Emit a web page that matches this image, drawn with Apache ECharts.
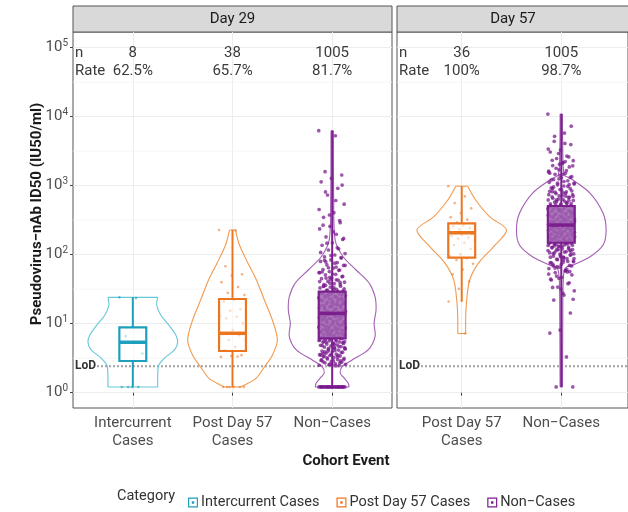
<!DOCTYPE html>
<html><head><meta charset="utf-8">
<script src="https://cdn.jsdelivr.net/npm/echarts@6/dist/echarts.min.js"></script>
<style>html,body{margin:0;padding:0;background:#fff}#c{width:628px;height:512px}</style>
</head><body><div id="c"></div><script>
const FONT = 'Roboto, "Liberation Sans", sans-serif';
// ---------------- data ----------------
const categories = ['Intercurrent Cases', 'Post Day 57 Cases', 'Non-Cases'];
const tickLabels = ['Intercurrent\nCases', 'Post Day 57\nCases', 'Non\u2212Cases'];
const panelTitles = ['Day 29', 'Day 57'];
const day29Cats = [0, 1, 2];
const day57Cats = [1, 2];
const day29N = ['8', '38', '1005'];
const day29Rate = ['62.5%', '65.7%', '81.7%'];
const day57N = ['36', '1005'];
const day57Rate = ['100%', '98.7%'];
const lodValue = 2.42;
const yTickExponents = [0, 1, 2, 3, 4, 5];
const yMinorExponents = [0.5, 1.5, 2.5, 3.5, 4.5];

// box statistics [min, Q1, median, Q3, max] (IU50/ml)
const boxD29Inter = [1.21, 2.88, 5.38, 8.87, 24.1];
const boxD29Post  = [1.21, 4.02, 7.26, 22.8, 228];
const boxD29Non   = [1.21, 6.14, 14.1, 29.1, 6270];
const boxD57Post  = [20.8, 90.5, 208, 285, 985];
const boxD57Non   = [1.21, 149, 269, 508, 10940];

// violin outlines: [titer, half-width]
const violinD29Inter = [[24.1,0.25],[18.6,0.24],[13.4,0.28],[9.6,0.36],[6.9,0.43],[5.4,0.45],[4.2,0.42],[3.2,0.32],[2.5,0.26],[1.8,0.25],[1.21,0.25]];
const violinD29Post = [[228,0.03],[138,0.07],[78,0.15],[43,0.24],[22,0.32],[11.3,0.40],[5.8,0.45],[3.5,0.40],[2.36,0.32],[1.63,0.24],[1.38,0.16],[1.21,0.08]];
const violinD29Non = [[6270,0.012],[621,0.015],[163,0.03],[93.5,0.11],[60,0.24],[38.9,0.37],[24.6,0.43],[15.8,0.44],[10.2,0.42],[6.5,0.43],[4.16,0.36],[2.98,0.20],[2.38,0.10],[1.93,0.08],[1.69,0.11],[1.38,0.16],[1.21,0.17]];
const violinD57Post = [[985,0.06],[621,0.14],[356,0.28],[228,0.45],[131,0.32],[76,0.17],[43,0.08],[22,0.05],[12.6,0.04],[7.2,0.04]];
const violinD57Non = [[10940,0.012],[3290,0.015],[1430,0.03],[1280,0.09],[776,0.29],[398,0.42],[228,0.45],[138,0.42],[93.5,0.29],[71,0.12],[64,0.04],[43,0.02],[11.3,0.015],[1.21,0.012]];

// individual titers
const ptsD29Inter = [24.1, 23.5, 6.6, 3.7, 1.21, 1.21, 1.21, 1.21];
const ptsD29Post = [228, 225, 68, 52, 50, 40, 34, 28, 26, 22, 21, 16.2, 15.4, 12.9, 12.6, 12.0, 10.1, 8.1, 7.3, 6.8, 5.8, 5.9, 4.6, 4.1, 3.5, 3.4, 3.3, 3.35, 1.21, 1.21, 1.21, 1.21, 1.21, 1.21];
const ptsD29Non = [6270, 5300, 1600, 1430, 1280, 1140, 916, 733, 540, 406, 348, 291, 258, 236, 198, 181, 166, 149, 137, 122, 117, 104, 99, 93, 91, 84, 80, 77, 71, 70, 64, 61, 60, 57, 55, 52, 51, 48, 46, 45, 43, 41, 40, 38, 37, 35, 34, 33, 31.5, 30.4, 29.9, 28.6, 27.7, 27.1, 26.2, 25.4, 24.9, 24.0, 23.1, 22.8, 21.7, 21.0, 20.6, 19.7, 19.3, 18.4, 18.1, 17.5, 16.8, 16.4, 15.7, 15.3, 14.9, 14.5, 14.0, 13.6, 13.4, 12.8, 12.5, 12.1, 11.8, 11.2, 11.0, 10.6, 10.3, 10.0, 9.7, 9.5, 9.1, 8.9, 8.6, 8.3, 8.1, 7.8, 7.6, 7.3, 7.1, 6.9, 6.6, 6.4, 6.2, 6.0, 5.8, 5.6, 5.4, 5.3, 5.0, 4.8, 4.7, 4.4, 4.3, 4.1, 3.9, 3.8, 3.6, 3.5, 3.3, 3.2, 3.0, 2.9, 2.8, 2.7, 2.6, 2.5, 2.45, 36, 22.4, 17.9, 13.1, 9.9, 8.0, 5.5, 4.5, 3.4, 2.9, 44, 27.3, 19.0, 11.5, 7.0, 5.1, 3.7,
  2.47, 2.52, 2.58, 2.63, 2.71, 2.76, 2.84, 2.93, 3.02, 3.08, 3.15, 3.24, 3.31, 3.39, 3.46, 3.55, 3.63, 3.72, 3.86, 3.94, 4.02, 4.15, 4.22, 4.36, 4.41, 4.58, 4.66, 4.75, 4.87, 4.95, 5.06, 5.18, 5.24, 5.37, 5.45, 5.62, 5.71, 5.84, 5.96, 6.08, 6.17, 6.33, 6.45, 6.58, 6.72, 6.84, 6.97, 7.15, 7.28, 7.45, 7.52, 7.71, 7.88, 8.04, 8.17, 8.39, 8.52, 8.77, 8.94, 9.22, 9.38, 9.61, 9.83, 10.1, 10.4, 10.7, 10.9, 11.3, 11.6, 11.9, 12.3, 12.6, 12.9, 13.3, 13.8, 14.2, 14.6, 15.1, 15.5, 16.0, 16.6, 17.2, 17.7, 18.3, 18.9, 19.6, 20.2, 20.9, 21.5, 22.2, 23.0, 23.7, 24.5, 25.3, 26.1, 27.0, 28.1, 29.3, 30.6, 32.0, 33.4, 35.1, 36.9, 38.7, 40.8, 43.2, 45.9, 48.6, 52.3, 56.1, 59.4, 64.7, 69.8, 75.3, 82.9, 89.6, 97.2, 108, 126, 147, 172, 214, 268, 312, 376, 452, 610, 812, 1020,
  2.55, 2.98, 3.48, 3.97, 4.49, 5.02, 5.58, 6.24, 6.91, 7.62, 8.33, 9.05, 9.92, 10.8, 11.7, 12.7, 13.9, 15.0, 16.2, 17.4, 18.7, 20.1, 21.9, 23.4, 25.6, 28.4, 31.2, 34.6, 39.9, 47.1, 54.8, 66.2, 78.5,
  1.21, 1.21, 1.21, 1.21, 1.21, 1.21, 1.21, 1.21, 1.21, 1.21, 1.21, 1.21, 1.21, 1.21, 1.21, 1.21, 1.21, 1.21, 1.21, 1.21, 1.21, 1.21, 1.21, 1.21, 1.21, 1.21];
const ptsD57Post = [985, 700, 560, 470, 400, 350, 322, 292, 281, 268, 259, 243, 231, 217, 211, 204, 199, 193, 187, 178, 171, 158, 149, 138, 121, 101, 95, 89, 84, 74, 61, 52, 41, 32, 21, 7.2];
const ptsD57Non = [10940, 5800, 4400, 3950, 3300, 3080, 2690, 2480, 2310, 2170, 1960, 1870, 1700, 1630, 1510, 1460, 1350, 1300, 1210, 1180, 1090, 1060, 990, 960, 905, 880, 830, 815, 770, 745, 720, 690, 671, 640, 622, 595, 580, 552, 541, 515, 503, 490, 481, 458, 451, 430, 425, 407, 398, 388, 371, 366, 352, 346, 331, 328, 314, 306, 297, 290, 281, 276, 268, 262, 253, 249, 240, 236, 226, 221, 213, 208, 203, 197, 190, 185, 179, 174, 166, 162, 156, 151, 146, 141, 137, 132, 128, 123, 118, 115, 109, 106, 100, 97, 92, 88, 86, 81, 78, 73, 70, 66, 63, 58, 55, 51, 47, 43, 38, 34, 30, 26, 22, 14.3, 8.1, 7.3, 3.3, 1.21, 1.21, 1460, 820, 610, 455, 372, 318, 259, 231, 193, 171, 144, 121, 103, 84, 69, 57, 2050, 1120, 705, 533, 417, 342, 284, 244, 209, 182, 159, 134, 112, 94, 76, 61, 49,
  22.6, 27.8, 33.5, 39.2, 45.6, 52.4, 58.9, 64.1, 68.7, 72.5, 76.9, 80.3, 84.8, 88.1, 91.7, 95.4, 98.9, 102, 107, 111, 114, 119, 122, 126, 129, 133, 136, 139, 143, 147, 150, 153, 157, 160, 163, 167, 170, 173, 177, 181, 184, 188, 191, 195, 199, 202, 206, 211, 215, 219, 224, 228, 233, 238, 243, 247, 252, 257, 263, 268, 273, 279, 286, 292, 299, 305, 312, 320, 327, 335, 343, 351, 360, 369, 378, 388, 399, 411, 423, 436, 449, 463, 478, 494, 511, 529, 548, 567, 588, 611, 634, 658, 684, 712, 741, 772, 806, 843, 884, 929, 977, 1030, 1090, 1150, 1230, 1320, 1410, 1520, 1650, 1790, 1940, 2120, 2340, 2610, 2930, 3400, 4100, 5200, 7300,
  31.8, 44.2, 56.3, 67.5, 79.1, 91.2, 104, 117, 131, 145, 158, 176, 194, 213, 234, 256, 277, 301, 333, 365, 402, 446, 497, 556, 623, 702, 798, 912, 1040, 1260, 1580, 2240];

// ---------------- styling ----------------
const colors = {
  box: ['#1E9FBD', '#EC7620', '#7B1F8E'],
  violin: ['#66C7D8', '#F39A4E', '#A35FB4'],
  point: ['rgba(30,159,189,0.75)', 'rgba(236,118,32,0.7)', 'rgba(118,22,138,0.9)'],
  boxFill: ['rgba(255,255,255,0.55)', 'rgba(255,255,255,0.55)', 'rgba(160,98,176,0.85)']
};
const lg = Math.log10;

function violinSeries(gi, xc, profile, ci) {
  return {
    type: 'custom', name: categories[ci], xAxisIndex: gi, yAxisIndex: gi, z: 2, silent: true,
    data: [[xc, 0]],
    renderItem(params, api) {
      const L = profile.map(([v, w]) => api.coord([xc - w, lg(v)]));
      const R = profile.map(([v, w]) => api.coord([xc + w, lg(v)]));
      const st = { fill: 'none', stroke: colors.violin[ci], lineWidth: 1.1 };
      return { type: 'group', children: [
        { type: 'polyline', shape: { points: L, smooth: 0.3 }, style: st },
        { type: 'polyline', shape: { points: R, smooth: 0.3 }, style: st },
        { type: 'line', shape: { x1: L[0][0], y1: L[0][1], x2: R[0][0], y2: R[0][1] }, style: st },
        { type: 'line', shape: { x1: L[L.length-1][0], y1: L[L.length-1][1], x2: R[R.length-1][0], y2: R[R.length-1][1] }, style: st }
      ]};
    }
  };
}
function pointSeries(gi, xc, vals, ci) {
  const jw = 0.135;
  return {
    type: 'scatter', name: categories[ci], xAxisIndex: gi, yAxisIndex: gi, z: 3, silent: true,
    symbolSize: ci === 2 ? 3.7 : 2.6, large: false,
    itemStyle: { color: colors.point[ci] },
    data: vals.map((v, i) => [xc + (((i * 0.6180339887) % 1) - 0.5) * 2 * jw, lg(v)])
  };
}
function boxSeries(gi, xc, stats, ci) {
  const s = stats.map(lg);
  return {
    type: 'custom', name: categories[ci], xAxisIndex: gi, yAxisIndex: gi, z: 4, silent: true,
    data: [[xc].concat(s)],
    renderItem(params, api) {
      const hw = 0.135, c = colors.box[ci];
      const p = s.map(v => api.coord([xc, v]));
      const l = api.coord([xc - hw, s[2]])[0], r = api.coord([xc + hw, s[2]])[0];
      return { type: 'group', children: [
        { type: 'line', shape: { x1: p[0][0], y1: p[0][1], x2: p[1][0], y2: p[1][1] }, style: { stroke: c, lineWidth: 2 } },
        { type: 'line', shape: { x1: p[3][0], y1: p[3][1], x2: p[4][0], y2: p[4][1] }, style: { stroke: c, lineWidth: 2 } },
        { type: 'rect', shape: { x: l, y: p[3][1], width: r - l, height: p[1][1] - p[3][1] }, style: { fill: colors.boxFill[ci], stroke: c, lineWidth: 2.2 } },
        { type: 'line', shape: { x1: l, y1: p[2][1], x2: r, y2: p[2][1] }, style: { stroke: c, lineWidth: 3.5 } }
      ]};
    }
  };
}
function headerSeries(gi, cats, nArr, rateArr) {
  return {
    type: 'custom', xAxisIndex: gi, yAxisIndex: gi, z: 5, silent: true,
    data: cats.map((c, i) => [i + 1]),
    renderItem(params, api) {
      const i = params.dataIndex, cs = params.coordSys;
      const x = api.coord([i + 1, 0])[0];
      const st = { fontFamily: FONT, fontSize: 15, fill: '#3a3a3a', align: 'center', verticalAlign: 'middle' };
      const ch = [
        { type: 'text', x: x, y: cs.y + 21, style: Object.assign({}, st, { text: nArr[i] }) },
        { type: 'text', x: x, y: cs.y + 39.5, style: Object.assign({}, st, { text: rateArr[i] }) }
      ];
      if (i === 0) {
        ch.push({ type: 'text', x: cs.x + 2, y: cs.y + 21, style: Object.assign({}, st, { text: 'n', align: 'left' }) });
        ch.push({ type: 'text', x: cs.x + 2, y: cs.y + 39.5, style: Object.assign({}, st, { text: 'Rate', align: 'left' }) });
      }
      return { type: 'group', children: ch };
    }
  };
}
function lodSeries(gi) {
  return {
    type: 'custom', xAxisIndex: gi, yAxisIndex: gi, z: 1, silent: true,
    data: [[0, lg(lodValue)]],
    renderItem(params, api) {
      const cs = params.coordSys;
      const y = api.coord([0, lg(lodValue)])[1];
      return { type: 'group', children: [
        { type: 'line', shape: { x1: cs.x, y1: y, x2: cs.x + cs.width, y2: y }, style: { stroke: '#A9A9A9', lineWidth: 2.2, lineDash: [2, 2] } },
        { type: 'text', x: cs.x + 1, y: y, z2: 10, style: { text: 'LoD', fontFamily: FONT, fontWeight: 'bold', fontSize: 12, fill: '#333', verticalAlign: 'middle', backgroundColor: '#fff', padding: [1, 1] } }
      ]};
    }
  };
}
function minorGridSeries(gi) {
  return {
    type: 'custom', xAxisIndex: gi, yAxisIndex: gi, z: 0, silent: true,
    data: yMinorExponents.map(e => [0, e]),
    renderItem(params, api) {
      const cs = params.coordSys;
      const y = api.coord([0, yMinorExponents[params.dataIndex]])[1];
      return { type: 'line', shape: { x1: cs.x, y1: y, x2: cs.x + cs.width, y2: y }, style: { stroke: '#F3F3F3', lineWidth: 0.8 } };
    }
  };
}

const yMin = -0.222, yMax = 5.228;
const gridStyle = { show: true, borderColor: '#555', borderWidth: 1, backgroundColor: '#fff', containLabel: false };
function yAxis(gi, labels) {
  return {
    type: 'value', gridIndex: gi, min: yMin, max: yMax,
    axisLine: { show: false },
    axisTick: { show: labels, length: 3, lineStyle: { color: '#444' }, customValues: yTickExponents },
    axisLabel: labels ? {
      show: true, customValues: yTickExponents, margin: 5, color: '#4D4D4D',
      formatter: v => '{b|10}{s|' + v + '}',
      rich: { b: { fontFamily: FONT, fontSize: 15, color: '#4D4D4D', lineHeight: 18 },
              s: { fontFamily: FONT, fontSize: 10, color: '#4D4D4D', lineHeight: 10, verticalAlign: 'top' } }
    } : { show: false, customValues: yTickExponents },
    splitLine: { show: true, lineStyle: { color: '#EBEBEB', width: 0.9 } }
  };
}
function xAxis(gi, min, max, cats) {
  const vals = cats.map((c, i) => i + 1);
  return {
    type: 'value', gridIndex: gi, min: min, max: max,
    axisLine: { show: false },
    axisTick: { show: true, length: 3, lineStyle: { color: '#444' }, customValues: vals },
    axisLabel: { show: true, customValues: vals, margin: 6, color: '#4D4D4D', fontFamily: FONT, fontSize: 15, lineHeight: 18,
      formatter: v => tickLabels[cats[Math.round(v) - 1]] },
    splitLine: { show: true, lineStyle: { color: '#EBEBEB', width: 0.9 } }
  };
}

const legendIcon = 'path://M0,0H10V10H0Z M1.2,1.2V8.8H8.8V1.2Z M3.8,3.8H6.2V6.2H3.8Z';
const option = {
  animation: false,
  backgroundColor: '#fff',
  grid: [
    Object.assign({ left: 73, top: 32, width: 319, height: 376 }, gridStyle),
    Object.assign({ left: 397, top: 32, width: 232, height: 376 }, gridStyle)
  ],
  xAxis: [xAxis(0, 0.4, 3.6, day29Cats), xAxis(1, 0.35, 2.67, day57Cats)],
  yAxis: [yAxis(0, true), yAxis(1, false)],
  legend: {
    left: 183, top: 490, itemWidth: 10, itemHeight: 10, itemGap: 17,
    formatter: name => name.replace('-', '\u2212'),
    textStyle: { fontFamily: FONT, fontSize: 14.5, color: '#333', padding: [0, 0, 0, -2] },
    data: categories.map((c, i) => ({ name: c, icon: legendIcon, itemStyle: { color: colors.box[i] } }))
  },
  graphic: [
    { type: 'rect', shape: { x: 73, y: 6, width: 319, height: 26 }, style: { fill: '#D9D9D9', stroke: '#555', lineWidth: 1 } },
    { type: 'rect', shape: { x: 397, y: 6, width: 232, height: 26 }, style: { fill: '#D9D9D9', stroke: '#555', lineWidth: 1 } },
    { type: 'text', x: 232.5, y: 19, style: { text: panelTitles[0], fontFamily: FONT, fontSize: 15, fill: '#1a1a1a', align: 'center', verticalAlign: 'middle' } },
    { type: 'text', x: 513, y: 19, style: { text: panelTitles[1], fontFamily: FONT, fontSize: 15, fill: '#1a1a1a', align: 'center', verticalAlign: 'middle' } },
    { type: 'text', x: 37, y: 214, rotation: Math.PI / 2, style: { text: 'Pseudovirus\u2212nAb ID50 (IU50/ml)', fontFamily: FONT, fontWeight: 'bold', fontSize: 15, fill: '#1a1a1a', align: 'center', verticalAlign: 'middle' } },
    { type: 'text', x: 346, y: 461, style: { text: 'Cohort Event', fontFamily: FONT, fontWeight: 'bold', fontSize: 15, fill: '#1a1a1a', align: 'center', verticalAlign: 'middle' } },
    { type: 'text', x: 117, y: 496, style: { text: 'Category', fontFamily: FONT, fontSize: 14.5, fill: '#333', align: 'left', verticalAlign: 'middle' } }
  ],
  series: [
    minorGridSeries(0), minorGridSeries(1),
    lodSeries(0), lodSeries(1),
    violinSeries(0, 1, violinD29Inter, 0), violinSeries(0, 2, violinD29Post, 1), violinSeries(0, 3, violinD29Non, 2),
    violinSeries(1, 1, violinD57Post, 1), violinSeries(1, 2, violinD57Non, 2),
    pointSeries(0, 1, ptsD29Inter, 0), pointSeries(0, 2, ptsD29Post, 1), pointSeries(0, 3, ptsD29Non, 2),
    pointSeries(1, 1, ptsD57Post, 1), pointSeries(1, 2, ptsD57Non, 2),
    boxSeries(0, 1, boxD29Inter, 0), boxSeries(0, 2, boxD29Post, 1), boxSeries(0, 3, boxD29Non, 2),
    boxSeries(1, 1, boxD57Post, 1), boxSeries(1, 2, boxD57Non, 2),
    headerSeries(0, day29Cats, day29N, day29Rate), headerSeries(1, day57Cats, day57N, day57Rate)
  ]
};
const chart = echarts.init(document.getElementById('c'), null, { renderer: 'canvas' });
chart.setOption(option);
</script></body></html>
